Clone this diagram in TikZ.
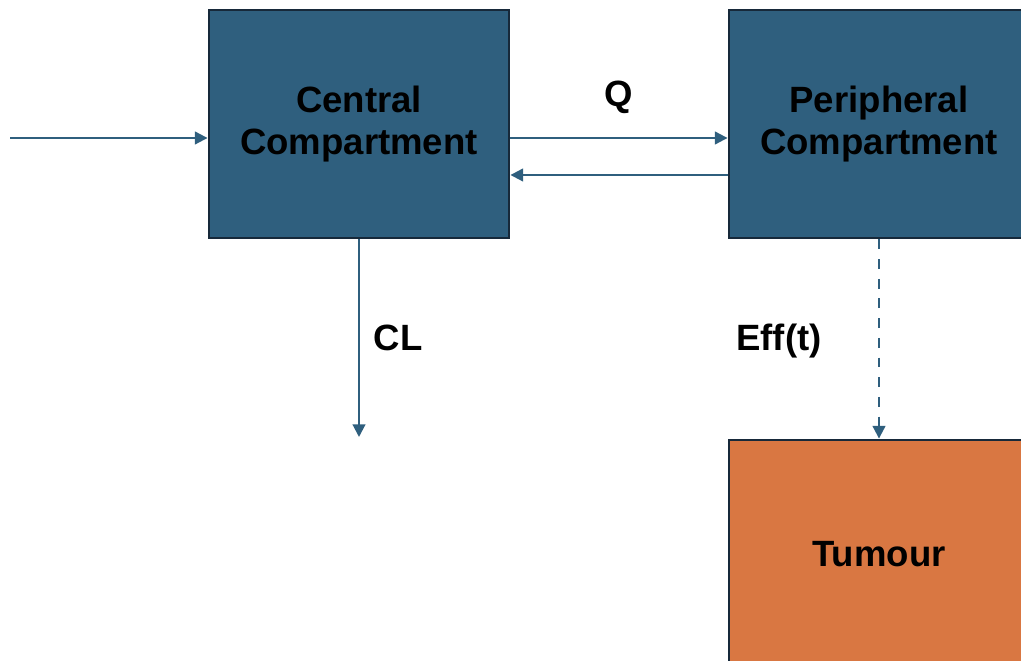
\documentclass[tikz,border=0pt]{standalone}
\usepackage{fontspec}
\setmainfont{Liberation Sans}
\usetikzlibrary{arrows.meta}
\definecolor{compblue}{HTML}{2F5F7E}
\definecolor{compedge}{HTML}{17293A}
\definecolor{tumourorange}{HTML}{D97742}

\begin{document}
\begin{tikzpicture}[x=0.025cm, y=-0.025cm,
    comp/.style={draw=compedge, line width=2pt, fill=compblue, minimum width=7.5cm,
        minimum height=5.7cm, inner sep=0pt, align=center,
        font=\fontsize{26}{30.5}\selectfont\bfseries},
    flow/.style={draw=compblue, line width=1.5pt, -{Triangle[length=9pt,width=9pt]}},
    lbl/.style={font=\fontsize{26}{30.5}\selectfont\bfseries}]
            \clip (0,0) rectangle (1021,661);

            \node[comp] (central) at (359,124) {Central\\Compartment};
            \node[comp] (periph) at (879,124) {Peripheral\\Compartment};
            \node[comp, fill=tumourorange] (tumour) at (879,554) {Tumour};

            \coordinate (dose) at (10,138);
            \coordinate (qrow) at (0,138);
            \coordinate (backrow) at (0,175);
            \coordinate (elim) at (359,437);

            \draw[flow] (dose) -- (central.west |- dose);

            \draw[flow] (central.east |- qrow) -- (periph.west |- qrow);
            \draw[flow] (periph.west |- backrow) -- (central.east |- backrow);
            \node[lbl] (qlabel) at (619,97) {Q};

            \draw[flow] (central.south) -- (elim);
            \node[lbl] (cllabel) at (398,338) {CL};

            \draw[flow, dash pattern=on 7pt off 7pt] (periph.south) -- (tumour.north);
            \node[lbl] (efflabel) at (779,341) {Eff(t)};
        \end{tikzpicture}
\end{document}
